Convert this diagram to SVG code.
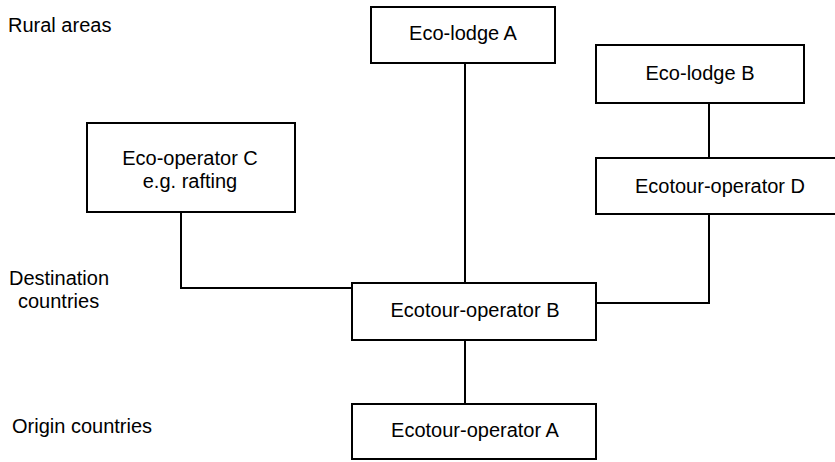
<svg xmlns="http://www.w3.org/2000/svg" width="835" height="462" viewBox="0 0 835 462">
<style>
.box{fill:#fff;stroke:#000;stroke-width:2}
.t{font-family:"Liberation Sans",Arial,sans-serif;font-size:20px;fill:#000}
.c{text-anchor:middle}
.ln{fill:none;stroke:#000;stroke-width:2}
</style>
<rect width="835" height="462" fill="#fff"/>
<g id="labels">
<text class="t" x="8" y="32">Rural areas</text>
<text class="t" x="9" y="285">Destination</text>
<text class="t" x="18" y="308">countries</text>
<text class="t" x="12" y="433">Origin countries</text>
</g>
<g id="connectors">
<path class="ln" d="M465 63V283"/>
<path class="ln" d="M181 212V288H352"/>
<path class="ln" d="M709 103V158"/>
<path class="ln" d="M709 214V303H596"/>
<path class="ln" d="M465 340V404"/>
</g>
<g id="eco-lodge-a">
<rect class="box" x="371" y="7" width="184" height="56"/>
<text class="t c" x="463" y="40">Eco-lodge A</text>
</g>
<g id="eco-lodge-b">
<rect class="box" x="596" y="45" width="208" height="58"/>
<text class="t c" x="700" y="80">Eco-lodge B</text>
</g>
<g id="eco-operator-c">
<rect class="box" x="87" y="123" width="208" height="89"/>
<text class="t c" x="190" y="165">Eco-operator C</text>
<text class="t c" x="190" y="188">e.g. rafting</text>
</g>
<g id="ecotour-operator-d">
<rect class="box" x="596" y="158" width="250" height="56"/>
<text class="t c" x="720" y="193">Ecotour-operator D</text>
</g>
<g id="ecotour-operator-b">
<rect class="box" x="352" y="283" width="244" height="57"/>
<text class="t c" x="475" y="317">Ecotour-operator B</text>
</g>
<g id="ecotour-operator-a">
<rect class="box" x="352" y="404" width="244" height="55"/>
<text class="t c" x="475" y="437">Ecotour-operator A</text>
</g>
</svg>
